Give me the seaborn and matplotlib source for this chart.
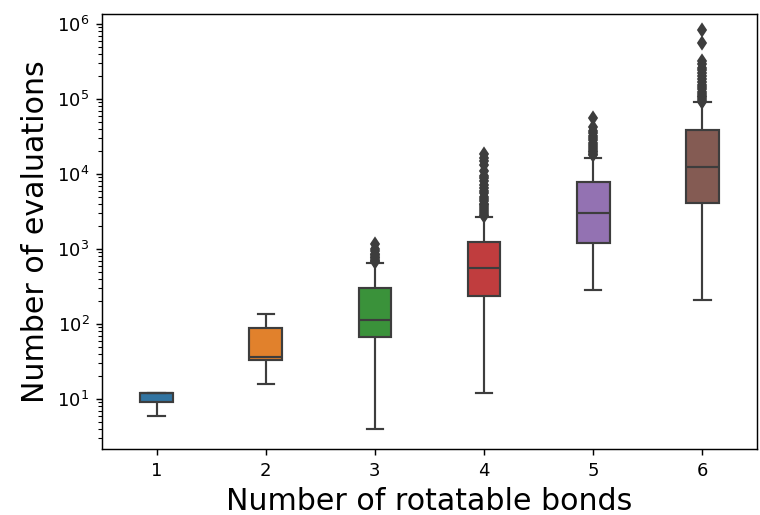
import numpy as np
import pandas as pd
import matplotlib
matplotlib.use("Agg")
import matplotlib.pyplot as plt
import seaborn as sns

# Number of rotatable bonds (x categories)
bonds = ["1", "2", "3", "4", "5", "6"]

# Five-number summaries of the evaluation counts per category
whisker_low = [6, 16, 4, 12, 281, 209]
q1 = [9, 33, 66, 238, 1213, 4140]
median = [12, 36, 112, 563, 3050, 12500]
q3 = [12, 88, 305, 1228, 7750, 38600]
whisker_high = [12, 135, 657, 2645, 16200, 90000]

# Outlying runs above the upper whisker
fliers = [
    [],
    [],
    [680, 700, 720, 750, 780, 820, 870, 930, 1000, 1150],
    [2750, 2850, 3000, 3200, 3400, 3600, 3800, 4000, 4300, 4600, 5000, 5500,
     6000, 6500, 7200, 8000, 8800, 9500, 11000, 13000, 15000, 16500, 18500],
    [17800, 18500, 19500, 20500, 21500, 23000, 24500, 26000, 28000, 30000,
     32500, 35000, 38000, 42000, 55000],
    [92000, 95000, 100000, 105000, 110000, 118000, 125000, 135000, 145000,
     155000, 170000, 185000, 200000, 220000, 240000, 260000, 290000, 320000,
     550000, 820000],
]


def sample_for(i):
    """Sorted sample (4k+1 values) whose quartiles and whiskers equal the summary."""
    k = max(len(fliers[i]) + 1, 2)
    lower = [whisker_low[i]] + [q1[i]] * (k - 1)
    mid_lo = [q1[i]] + [median[i]] * (k - 1)
    mid_hi = [median[i]] + [q3[i]] * (k - 1)
    upper = [q3[i]] + [whisker_high[i]] * (k - len(fliers[i])) + list(fliers[i])
    return lower + mid_lo + mid_hi + upper


rows = []
for i, b in enumerate(bonds):
    for v in sample_for(i):
        rows.append((b, v))
df = pd.DataFrame(rows, columns=["bonds", "evaluations"])

line_gray = "#3d3d3d"

fig = plt.figure(figsize=(760 / 130, 515 / 130), dpi=130)
ax = fig.add_axes([102 / 760, 1 - 449 / 515, (757 - 102) / 760, (449 - 14) / 515])

sns.boxplot(
    data=df, x="bonds", y="evaluations", hue="bonds", order=bonds,
    hue_order=bonds, palette=sns.color_palette("tab10", 6), saturation=0.75,
    width=0.3, linewidth=1.2, linecolor=line_gray, fliersize=5, legend=False,
    flierprops=dict(marker="d", markerfacecolor=line_gray,
                    markeredgecolor=line_gray),
    ax=ax,
)
ax.set_yscale("log")
ax.set_ylim(2.15, 1.36e6)

ax.set_xlabel("Number of rotatable bonds", fontsize=16.6)
ax.set_ylabel("Number of evaluations", fontsize=16.6)
ax.tick_params(labelsize=10)

fig.savefig("out.png", dpi=130)
